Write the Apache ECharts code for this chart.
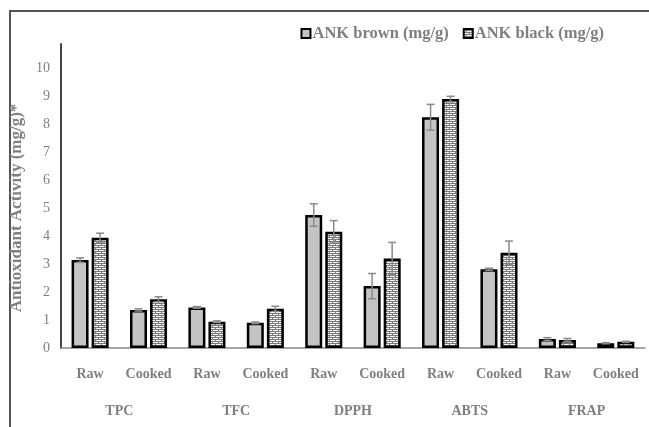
<!DOCTYPE html>
<html>
<head>
<meta charset="utf-8">
<script src="https://cdn.jsdelivr.net/npm/echarts@6/dist/echarts.min.js"></script>
<style>
  html, body { margin: 0; padding: 0; background: #fff; }
  #frame { position: absolute; left: 9px; top: 10px; width: 640px; height: 417px;
           border-left: 2px solid #555; border-top: 2px solid #555; }
  #main { width: 649px; height: 427px; }
</style>
</head>
<body>
<div id="frame"></div>
<div id="main" style="position:absolute;left:0;top:0;"></div>
<script>
// 数据
const categories = ["Raw", "Cooked", "Raw", "Cooked", "Raw", "Cooked", "Raw", "Cooked", "Raw", "Cooked"];
const groups = ["TPC", "TFC", "DPPH", "ABTS", "FRAP"];
const brownValues = [3.14, 1.36, 1.45, 0.90, 4.75, 2.21, 8.24, 2.81, 0.32, 0.17];
const brownErrors = [0.08, 0.04, 0.03, 0.03, 0.40, 0.45, 0.46, 0.04, 0.05, 0.02];
const blackValues = [3.94, 1.74, 0.94, 1.40, 4.15, 3.20, 8.89, 3.40, 0.29, 0.22];
const blackErrors = [0.16, 0.09, 0.03, 0.09, 0.40, 0.57, 0.10, 0.42, 0.05, 0.02];
const yTicks = [0, 1, 2, 3, 4, 5, 6, 7, 8, 9, 10];

// 砖纹填充
function brickPattern() {
  const c = document.createElement("canvas");
  c.width = 6;
  c.height = 4;
  const ctx = c.getContext("2d");
  ctx.fillStyle = "#7a7a7a";
  ctx.fillRect(0, 0, 6, 4);
  ctx.fillStyle = "#f6f6f6";
  ctx.fillRect(0, 0, 5, 1);
  ctx.fillRect(3, 2, 3, 1);
  ctx.fillRect(0, 2, 2, 1);
  return c;
}

const font = "Liberation Serif";
const grey = "#7f7f7f";

const myChart = echarts.init(document.getElementById("main"));

function errorSeries(values, errors, offset) {
  return {
    type: "custom",
    xAxisIndex: 0,
    z: 5,
    silent: true,
    data: values.map((v, i) => [i, v, errors[i]]),
    renderItem(params, api) {
      const i = api.value(0);
      const v = api.value(1);
      const e = api.value(2);
      const top = api.coord([i, v + e]);
      const bot = api.coord([i, v - e]);
      const x = top[0] + offset;
      const style = { stroke: "#8a8a8a", lineWidth: 1.5 };
      return {
        type: "group",
        children: [
          { type: "line", shape: { x1: x, y1: top[1], x2: x, y2: bot[1] }, style },
          { type: "line", shape: { x1: x - 4, y1: top[1], x2: x + 4, y2: top[1] }, style },
          { type: "line", shape: { x1: x - 4, y1: bot[1], x2: x + 4, y2: bot[1] }, style }
        ]
      };
    }
  };
}

const option = {
  animation: false,
  legend: {
    top: 20,
    right: 40,
    icon: "rect",
    itemWidth: 9,
    itemHeight: 9,
    itemGap: 14,
    data: ["ANK brown (mg/g)", "ANK black (mg/g)"],
    textStyle: { fontFamily: font, fontWeight: "bold", fontSize: 16.5, color: grey, padding: [0, 0, 0, -3] }
  },
  grid: { left: 57, right: 4, top: 44, bottom: 79 },
  xAxis: [
    {
      type: "category",
      data: categories,
      axisLine: { lineStyle: { color: "#888", width: 1.5 } },
      axisTick: { show: false },
      axisLabel: { interval: 0, margin: 19, fontFamily: font, fontWeight: "bold", fontSize: 14, color: grey }
    },
    {
      type: "category",
      data: groups,
      position: "bottom",
      offset: 0,
      axisLine: { show: false },
      axisTick: { show: false },
      axisLabel: { margin: 56, fontFamily: font, fontWeight: "bold", fontSize: 14, color: grey }
    }
  ],
  yAxis: {
    type: "value",
    min: yTicks[0],
    max: 10.857,
    interval: 1,
    name: "Antioxidant Activity (mg/g)*",
    nameLocation: "middle",
    nameGap: 26,
    nameTextStyle: { fontFamily: font, fontWeight: "bold", fontSize: 17, color: grey, padding: [0, 24, 0, 0] },
    splitLine: { show: false },
    axisLine: { show: true, lineStyle: { color: "#444", width: 2 } },
    axisTick: { show: false },
    axisLabel: {
      showMaxLabel: false,
      margin: 11,
      fontFamily: font,
      fontSize: 14,
      color: grey,
      formatter: v => (yTicks.includes(v) ? String(v) : "")
    }
  },
  series: [
    {
      name: "ANK brown (mg/g)",
      type: "bar",
      barWidth: 17,
      barGap: "18%",
      data: brownValues,
      itemStyle: { color: "#c4c4c4", borderColor: "#000", borderWidth: 2.5 }
    },
    {
      name: "ANK black (mg/g)",
      type: "bar",
      barWidth: 17,
      data: blackValues,
      itemStyle: { color: { image: brickPattern(), repeat: "repeat" }, borderColor: "#000", borderWidth: 2.5 }
    },
    errorSeries(brownValues, brownErrors, -10),
    errorSeries(blackValues, blackErrors, 10)
  ]
};

myChart.setOption(option);
</script>
</body>
</html>
